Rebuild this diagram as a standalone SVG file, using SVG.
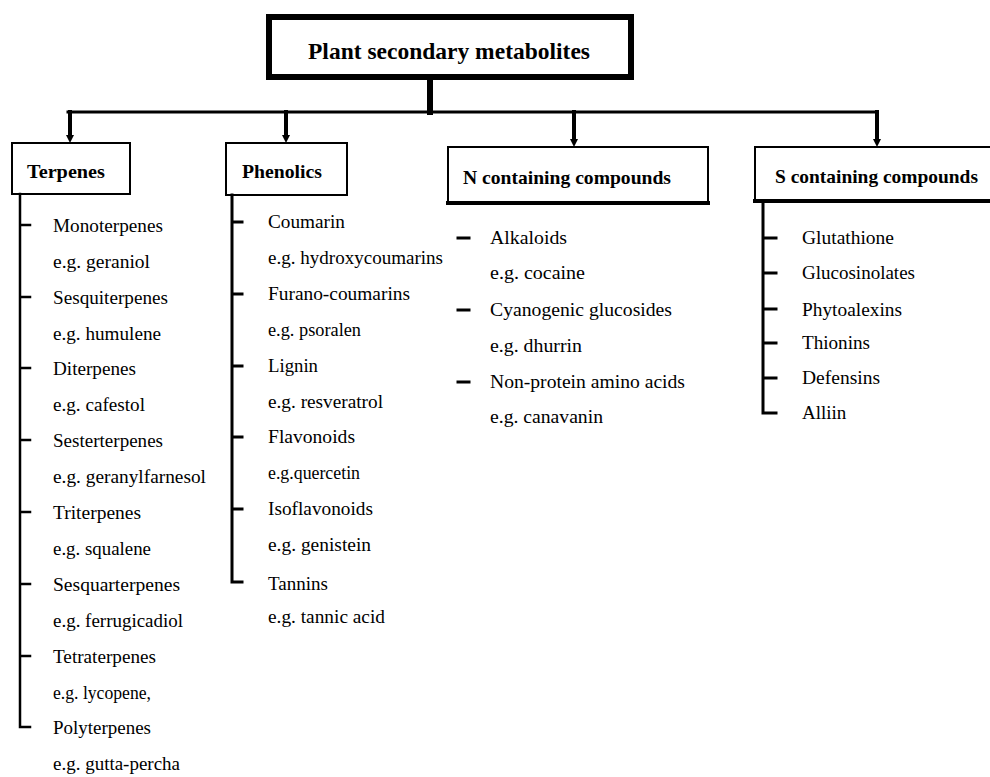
<svg xmlns="http://www.w3.org/2000/svg" width="990" height="777" viewBox="0 0 990 777">
<style>
  text { font-family: "Liberation Serif", "Times New Roman", serif; fill: #000; }
  .title { font-size: 23px; font-weight: bold; }
  .hdr { font-size: 19px; font-weight: bold; }
  .item { font-size: 19px; }
  .box { fill: #fff; stroke: #000; stroke-width: 2; }
  .line { stroke: #000; fill: none; stroke-linecap: square; }
</style>

<g id="connectors">
  <line class="line" x1="430" y1="80" x2="430" y2="112" stroke-width="6"/>
  <line class="line" x1="68" y1="112" x2="877" y2="112" stroke-width="3"/>
  <line class="line" x1="70" y1="112" x2="70" y2="136" stroke-width="4"/>
  <path d="M66,135 L74,135 L70,143 Z" fill="#000"/>
  <line class="line" x1="286" y1="112" x2="286" y2="136" stroke-width="4"/>
  <path d="M282,135 L290,135 L286,143 Z" fill="#000"/>
  <line class="line" x1="574" y1="112" x2="574" y2="140" stroke-width="4"/>
  <path d="M570,139 L578,139 L574,147 Z" fill="#000"/>
  <line class="line" x1="877" y1="112" x2="877" y2="140" stroke-width="4"/>
  <path d="M873,139 L881,139 L877,147 Z" fill="#000"/>
</g>

<g id="root">
  <rect x="269" y="17" width="362" height="60" fill="#fff" stroke="#000" stroke-width="6"/>
  <text class="title" x="308" y="59" textLength="282" lengthAdjust="spacingAndGlyphs">Plant secondary metabolites</text>
</g>

<g id="terpenes">
  <rect class="box" x="12" y="143" width="118" height="51"/>
  <text class="hdr" x="27" y="178" textLength="78" lengthAdjust="spacingAndGlyphs">Terpenes</text>
  <path class="line" stroke-width="2.5" d="M20,194 V727 H30 M20,225 H30 M20,297 H30 M20,368 H30 M20,440 H30 M20,512 H30 M20,584 H30 M20,656 H30"/>
  <text class="item" x="53" y="232" textLength="110" lengthAdjust="spacingAndGlyphs">Monoterpenes</text>
  <text class="item" x="53" y="268" textLength="97" lengthAdjust="spacingAndGlyphs">e.g. geraniol</text>
  <text class="item" x="53" y="304" textLength="115" lengthAdjust="spacingAndGlyphs">Sesquiterpenes</text>
  <text class="item" x="53" y="340" textLength="108" lengthAdjust="spacingAndGlyphs">e.g. humulene</text>
  <text class="item" x="53" y="375" textLength="83" lengthAdjust="spacingAndGlyphs">Diterpenes</text>
  <text class="item" x="53" y="411" textLength="92" lengthAdjust="spacingAndGlyphs">e.g. cafestol</text>
  <text class="item" x="53" y="447" textLength="110" lengthAdjust="spacingAndGlyphs">Sesterterpenes</text>
  <text class="item" x="53" y="483" textLength="153" lengthAdjust="spacingAndGlyphs">e.g. geranylfarnesol</text>
  <text class="item" x="53" y="519" textLength="88" lengthAdjust="spacingAndGlyphs">Triterpenes</text>
  <text class="item" x="53" y="555" textLength="98" lengthAdjust="spacingAndGlyphs">e.g. squalene</text>
  <text class="item" x="53" y="591" textLength="127" lengthAdjust="spacingAndGlyphs">Sesquarterpenes</text>
  <text class="item" x="53" y="627" textLength="130" lengthAdjust="spacingAndGlyphs">e.g. ferrugicadiol</text>
  <text class="item" x="53" y="663" textLength="103" lengthAdjust="spacingAndGlyphs">Tetraterpenes</text>
  <text class="item" x="53" y="699" textLength="98" lengthAdjust="spacingAndGlyphs">e.g. lycopene,</text>
  <text class="item" x="53" y="734" textLength="98" lengthAdjust="spacingAndGlyphs">Polyterpenes</text>
  <text class="item" x="53" y="770" textLength="127" lengthAdjust="spacingAndGlyphs">e.g. gutta-percha</text>
</g>

<g id="phenolics">
  <rect class="box" x="226" y="143" width="121" height="52"/>
  <text class="hdr" x="242" y="178" textLength="80" lengthAdjust="spacingAndGlyphs">Phenolics</text>
  <path class="line" stroke-width="3" d="M232,195 V582 H242 M232,222 H242 M232,294 H242 M232,366 H242 M232,437 H242 M232,509 H242"/>
  <text class="item" x="268" y="228" textLength="77" lengthAdjust="spacingAndGlyphs">Coumarin</text>
  <text class="item" x="268" y="264" textLength="175" lengthAdjust="spacingAndGlyphs">e.g. hydroxycoumarins</text>
  <text class="item" x="268" y="300" textLength="142" lengthAdjust="spacingAndGlyphs">Furano-coumarins</text>
  <text class="item" x="268" y="336" textLength="93" lengthAdjust="spacingAndGlyphs">e.g. psoralen</text>
  <text class="item" x="268" y="372" textLength="50" lengthAdjust="spacingAndGlyphs">Lignin</text>
  <text class="item" x="268" y="408" textLength="115" lengthAdjust="spacingAndGlyphs">e.g. resveratrol</text>
  <text class="item" x="268" y="443" textLength="87" lengthAdjust="spacingAndGlyphs">Flavonoids</text>
  <text class="item" x="268" y="479" textLength="92" lengthAdjust="spacingAndGlyphs">e.g.quercetin</text>
  <text class="item" x="268" y="515" textLength="105" lengthAdjust="spacingAndGlyphs">Isoflavonoids</text>
  <text class="item" x="268" y="551" textLength="103" lengthAdjust="spacingAndGlyphs">e.g. genistein</text>
  <text class="item" x="268" y="590">Tannins</text>
  <text class="item" x="268" y="623" textLength="117" lengthAdjust="spacingAndGlyphs">e.g. tannic acid</text>
</g>

<g id="n-containing">
  <rect class="box" x="448" y="147" width="260" height="56"/>
  <line class="line" x1="448" y1="203" x2="708" y2="203" stroke-width="4"/>
  <text class="hdr" x="463" y="184" textLength="208" lengthAdjust="spacingAndGlyphs">N containing compounds</text>
  <path class="line" stroke-width="3" d="M458,238 H469 M458,310 H469 M458,382 H469"/>
  <text class="item" x="490" y="244" textLength="77" lengthAdjust="spacingAndGlyphs">Alkaloids</text>
  <text class="item" x="490" y="279" textLength="95" lengthAdjust="spacingAndGlyphs">e.g. cocaine</text>
  <text class="item" x="490" y="316" textLength="182" lengthAdjust="spacingAndGlyphs">Cyanogenic glucosides</text>
  <text class="item" x="490" y="352" textLength="92" lengthAdjust="spacingAndGlyphs">e.g. dhurrin</text>
  <text class="item" x="490" y="388" textLength="195" lengthAdjust="spacingAndGlyphs">Non-protein amino acids</text>
  <text class="item" x="490" y="423" textLength="113" lengthAdjust="spacingAndGlyphs">e.g. canavanin</text>
</g>

<g id="s-containing">
  <rect class="box" x="755" y="147" width="240" height="54"/>
  <line class="line" x1="755" y1="201" x2="990" y2="201" stroke-width="4"/>
  <text class="hdr" x="775" y="183" textLength="203" lengthAdjust="spacingAndGlyphs">S containing compounds</text>
  <path class="line" stroke-width="3" d="M763,204 V413 H776 M763,238 H776 M763,273 H776 M763,309 H776 M763,343 H776 M763,378 H776"/>
  <text class="item" x="802" y="244" textLength="92" lengthAdjust="spacingAndGlyphs">Glutathione</text>
  <text class="item" x="802" y="279" textLength="113" lengthAdjust="spacingAndGlyphs">Glucosinolates</text>
  <text class="item" x="802" y="316" textLength="100" lengthAdjust="spacingAndGlyphs">Phytoalexins</text>
  <text class="item" x="802" y="349" textLength="68" lengthAdjust="spacingAndGlyphs">Thionins</text>
  <text class="item" x="802" y="384" textLength="78" lengthAdjust="spacingAndGlyphs">Defensins</text>
  <text class="item" x="802" y="419">Alliin</text>
</g>
</svg>
